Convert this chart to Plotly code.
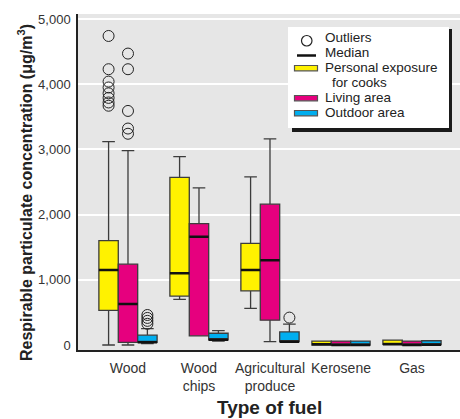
import plotly.graph_objects as go

categories = ["Wood", "Wood<br>chips", "Agricultural<br>produce", "Kerosene", "Gas"]

# Personal exposure for cooks
cook_low = [0, 700, 560, 0, 10]
cook_q1 = [530, 750, 830, 0, 10]
cook_med = [1150, 1100, 1150, 10, 10]
cook_q3 = [1600, 2570, 1560, 60, 75]
cook_high = [3120, 2890, 2580, 60, 75]
cook_out = [[4740, 4230, 4040, 3950, 3860, 3790, 3720, 3670], [], [], [], []]

# Living area
liv_low = [0, 140, 50, 0, 0]
liv_q1 = [40, 140, 380, 0, 0]
liv_med = [630, 1660, 1300, 0, 0]
liv_q3 = [1240, 1860, 2160, 60, 60]
liv_high = [2980, 2410, 3160, 60, 60]
liv_out = [[4470, 4230, 3590, 3320, 3240], [], [], [], []]

# Outdoor area
out_low = [20, 60, 50, 0, 5]
out_q1 = [40, 80, 50, 0, 5]
out_med = [40, 80, 50, 0, 5]
out_q3 = [150, 180, 200, 60, 65]
out_high = [250, 220, 320, 60, 65]
out_out = [[460, 415, 370, 325], [], [420], [], []]

y_ticks = [0, 1000, 2000, 3000, 4000, 5000]

FONT = "Liberation Sans, Arial, sans-serif"

series = [
    ("c", "#fff200", cook_low, cook_q1, cook_med, cook_q3, cook_high, cook_out),
    ("l", "#e6007e", liv_low, liv_q1, liv_med, liv_q3, liv_high, liv_out),
    ("o", "#00aeef", out_low, out_q1, out_med, out_q3, out_high, out_out),
]

fig = go.Figure()
for key, col, lo, q1, med, q3, hi, outl in series:
    fig.add_trace(go.Box(
        x=categories, y=outl, q1=q1, median=med, q3=q3,
        lowerfence=lo, upperfence=hi,
        boxpoints="outliers", jitter=0, pointpos=0,
        marker=dict(symbol="circle-open", size=11, color="#222",
                    line=dict(width=1, color="#222")),
        fillcolor=col, line=dict(color="#3c3c3c", width=1.3),
        whiskerwidth=0.65, offsetgroup=key, alignmentgroup="a",
        showlegend=False, hoverinfo="skip",
    ))
for key, col, lo, q1, med, q3, hi, outl in series:
    fig.add_trace(go.Box(
        x=categories, q1=med, median=med, q3=med,
        lowerfence=med, upperfence=med,
        boxpoints=False, fillcolor="rgba(0,0,0,0)",
        line=dict(color="#111", width=2.5), whiskerwidth=0,
        offsetgroup=key, alignmentgroup="a",
        showlegend=False, hoverinfo="skip",
    ))

L, R, T, B = 78, 460, 14, 350
W, H = 460, 419
def px(x):
    return (x - L) / (R - L)
def py(y):
    return (B - y) / (B - T)

shapes = []
annotations = []
# legend box with shadow
shapes.append(dict(type="rect", xref="paper", yref="paper", x0=px(292), x1=px(452),
                   y0=py(132), y1=py(29), fillcolor="#1a1a1a", line=dict(width=0)))
shapes.append(dict(type="rect", xref="paper", yref="paper", x0=px(288), x1=px(449),
                   y0=py(128), y1=py(27), fillcolor="white", line=dict(width=0)))
shapes.append(dict(type="circle", xref="paper", yref="paper", x0=px(301.5), x1=px(312),
                   y0=py(46), y1=py(35.5), line=dict(color="#222", width=1.2)))
shapes.append(dict(type="line", xref="paper", yref="paper", x0=px(297), x1=px(316),
                   y0=py(55.5), y1=py(55.5), line=dict(color="#111", width=2.5)))
for (y0, y1, col) in [(65.5, 70.8, "#fff200"), (95.5, 100.8, "#e6007e"), (110.5, 115.8, "#00aeef")]:
    shapes.append(dict(type="rect", xref="paper", yref="paper", x0=px(294.5), x1=px(317.5),
                       y0=py(y1), y1=py(y0), fillcolor=col, line=dict(color="#555", width=1.2)))

leg_text = [("Outliers", 324, 37.5), ("Median", 324, 52.5), ("Personal exposure", 324, 67.5),
            ("for cooks", 330.5, 82.5), ("Living area", 324, 97.5), ("Outdoor area", 324, 112.5)]
for t, x, y in leg_text:
    annotations.append(dict(text=t, xref="paper", yref="paper", x=px(x), y=py(y),
                            xanchor="left", yanchor="middle", showarrow=False,
                            borderpad=0,
                            font=dict(family=FONT, size=13.5, color="#222")))

annotations.append(dict(text="<b>Respirable particulate concentration (\u03bcg/m<sup>3</sup>)</b>",
                        xref="paper", yref="paper", x=px(25), y=py(193), textangle=-90,
                        xanchor="center", yanchor="middle", showarrow=False,
                        font=dict(family=FONT, size=16, color="#222")))
annotations.append(dict(text="<b>Type of fuel</b>", xref="paper", yref="paper",
                        x=px(269), y=py(407), xanchor="center", yanchor="middle",
                        showarrow=False, font=dict(family=FONT, size=19, color="#222")))

fig.update_layout(
    width=W, height=H,
    margin=dict(l=L, r=W - R, t=T, b=H - B, pad=0),
    paper_bgcolor="white", plot_bgcolor="#e6e6e6",
    boxmode="group", boxgap=0.18, boxgroupgap=0,
    showlegend=False,
    shapes=shapes, annotations=annotations,
    font=dict(family=FONT, size=14, color="#333"),
)
fig.update_xaxes(
    type="category", range=[-0.704, 4.676], showgrid=False,
    showline=True, linecolor="#222", linewidth=1.5, ticks="", tickangle=0,
    ticklabelstandoff=4,
    tickfont=dict(family=FONT, size=14, color="#333"),
)
fig.update_yaxes(
    range=[-77, 5077], tickvals=y_ticks, tickformat=",",
    showgrid=True, gridcolor="white", gridwidth=1.5,
    zeroline=True, zerolinecolor="#e6e6e6", zerolinewidth=1.5,
    showline=True, linecolor="#222", linewidth=1.5, ticks="",
    ticklabelstandoff=3,
    tickfont=dict(family=FONT, size=13, color="#333"),
)

fig.write_html("out.html")
